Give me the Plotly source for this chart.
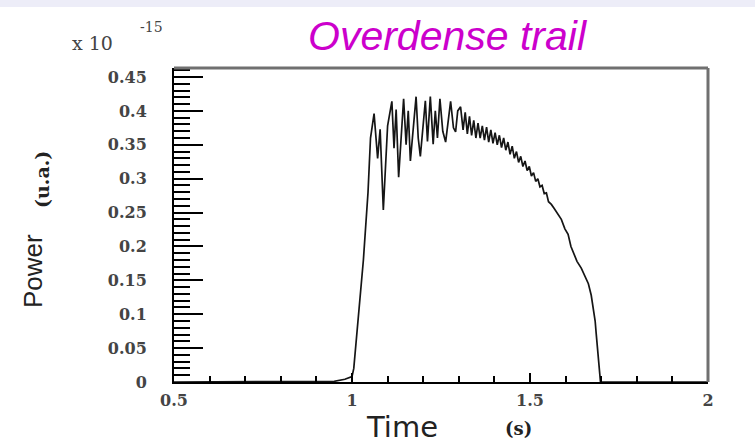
import plotly.graph_objects as go

# Time (s) and power (units of 1e-15, u.a.)
time_s = [0.50, 0.92, 0.95, 0.98, 1.000, 1.005, 1.015, 1.032, 1.045, 1.052, 1.062,
          1.072, 1.079, 1.088, 1.100, 1.112, 1.118, 1.124, 1.131, 1.145, 1.152,
          1.158, 1.164, 1.180, 1.186, 1.192, 1.206, 1.212, 1.220, 1.228, 1.234,
          1.240, 1.247, 1.255, 1.263, 1.277, 1.285, 1.291, 1.297, 1.305,
          1.312, 1.318, 1.324, 1.330, 1.336, 1.342, 1.348, 1.354, 1.360, 1.366,
          1.372, 1.378, 1.384, 1.390, 1.396, 1.402, 1.408, 1.414, 1.420, 1.426,
          1.432, 1.438, 1.444, 1.450, 1.456, 1.462, 1.468, 1.474, 1.480, 1.486,
          1.492, 1.498, 1.504, 1.510, 1.516, 1.522, 1.528, 1.534, 1.540, 1.546,
          1.552, 1.560, 1.568, 1.576, 1.588, 1.598, 1.607, 1.615, 1.624, 1.632,
          1.644, 1.652, 1.664, 1.672, 1.678, 1.683, 1.686, 1.690, 1.693, 1.696,
          1.698, 2.00]
power = [0.0, 0.0, 0.001, 0.004, 0.008, 0.020, 0.080, 0.180, 0.280, 0.360, 0.396,
         0.330, 0.373, 0.254, 0.378, 0.414, 0.345, 0.402, 0.302, 0.418, 0.350,
         0.400, 0.326, 0.421, 0.360, 0.333, 0.415, 0.355, 0.421, 0.351, 0.400,
         0.360, 0.418, 0.370, 0.354, 0.414, 0.375, 0.369, 0.400, 0.406,
         0.372, 0.398, 0.366, 0.392, 0.364, 0.386, 0.360, 0.382, 0.360, 0.378,
         0.357, 0.376, 0.354, 0.372, 0.352, 0.368, 0.350, 0.364, 0.346, 0.360,
         0.342, 0.354, 0.336, 0.348, 0.330, 0.340, 0.324, 0.333, 0.318, 0.326,
         0.312, 0.318, 0.304, 0.309, 0.296, 0.300, 0.288, 0.290, 0.278, 0.279,
         0.266, 0.262, 0.256, 0.250, 0.240, 0.226, 0.218, 0.200, 0.188, 0.178,
         0.168, 0.158, 0.145, 0.128, 0.110, 0.090, 0.071, 0.048, 0.030, 0.012,
         0.0, 0.0]

x_ticks = [0.5, 1.0, 1.5, 2.0]
x_tick_labels = ["0.5", "1", "1.5", "2"]
y_ticks = [0, 0.05, 0.1, 0.15, 0.2, 0.25, 0.3, 0.35, 0.4, 0.45]
y_tick_labels = ["0", "0.05", "0.1", "0.15", "0.2", "0.25", "0.3", "0.35", "0.4", "0.45"]

W, H = 755, 448
L, R, T, B = 174, 47, 68, 66
pw, ph = W - L - R, H - T - B


def px(x):
    return (x - L) / pw


def py(y):
    return (H - B - y) / ph


fig = go.Figure()
fig.add_trace(go.Scatter(x=time_s, y=power, mode="lines",
                         line=dict(color="#151515", width=1.7),
                         hoverinfo="skip", showlegend=False))

tickfont = dict(family="DejaVu Serif", size=16, color="#444444", weight="bold")
fig.update_xaxes(range=[0.5, 2.0], tickmode="array", tickvals=x_ticks,
                 ticktext=x_tick_labels, ticks="inside", ticklen=9, tickwidth=1.5,
                 tickcolor="black", showline=True, linecolor="black", linewidth=2,
                 showgrid=False, zeroline=False, tickfont=tickfont,
                 ticklabelstandoff=3,
                 minor=dict(dtick=0.1, tick0=0.5, ticks="inside", ticklen=6,
                            tickwidth=1.5, tickcolor="black", showgrid=False))
fig.update_yaxes(range=[0, 0.4633], tickmode="array", tickvals=y_ticks,
                 ticktext=y_tick_labels, ticks="inside", ticklen=29, tickwidth=1.5,
                 tickcolor="black", showline=True, linecolor="black", linewidth=2,
                 showgrid=False, zeroline=False, tickfont=tickfont,
                 ticklabelstandoff=22,
                 minor=dict(dtick=0.01, tick0=0, ticks="inside", ticklen=16,
                            tickwidth=1.5, tickcolor="black", showgrid=False))

shapes = [
    dict(type="rect", xref="paper", yref="paper", x0=px(0), x1=px(W),
         y0=py(7), y1=py(0), fillcolor="#EDEDF8", line=dict(width=0), layer="below"),
    dict(type="line", xref="paper", yref="paper", x0=0, x1=1, y0=1, y1=1,
         line=dict(color="#707070", width=3)),
    dict(type="line", xref="paper", yref="paper", x0=1, x1=1, y0=0, y1=1,
         line=dict(color="#707070", width=3)),
]

annotations = [
    dict(text="Overdense trail", x=px(448), y=py(36), xref="paper", yref="paper",
         showarrow=False, xanchor="center", yanchor="middle",
         font=dict(family="Liberation Sans", size=41, color="#CC00CC", style="italic")),
    dict(text="x 10", x=px(92), y=py(43), xref="paper", yref="paper",
         showarrow=False, xanchor="center", yanchor="middle",
         font=dict(family="DejaVu Serif", size=19, color="#444444")),
    dict(text="-15", x=px(151), y=py(27), xref="paper", yref="paper",
         showarrow=False, xanchor="center", yanchor="middle",
         font=dict(family="DejaVu Serif", size=14, color="#444444")),
    dict(text="Power", x=px(33), y=py(271), xref="paper", yref="paper",
         showarrow=False, xanchor="center", yanchor="middle", textangle=-90,
         font=dict(family="Liberation Sans", size=26, color="#222222")),
    dict(text="(u.a.)", x=px(42), y=py(180), xref="paper", yref="paper",
         showarrow=False, xanchor="center", yanchor="middle", textangle=-90,
         font=dict(family="DejaVu Serif", size=19, color="#222222", weight="bold")),
    dict(text="Time", x=px(402), y=py(427), xref="paper", yref="paper",
         showarrow=False, xanchor="center", yanchor="middle",
         font=dict(family="DejaVu Sans", size=29, color="#222222")),
    dict(text="(s)", x=px(518), y=py(428), xref="paper", yref="paper",
         showarrow=False, xanchor="center", yanchor="middle",
         font=dict(family="DejaVu Serif", size=18, color="#222222", weight="bold")),
]

fig.update_layout(width=W, height=H, margin=dict(l=L, r=R, t=T, b=B),
                  plot_bgcolor="white", paper_bgcolor="white",
                  shapes=shapes, annotations=annotations, showlegend=False)

fig.write_html("out.html", config={"displayModeBar": False},
               post_script="document.body.style.margin='0';document.body.style.overflow='hidden';")
